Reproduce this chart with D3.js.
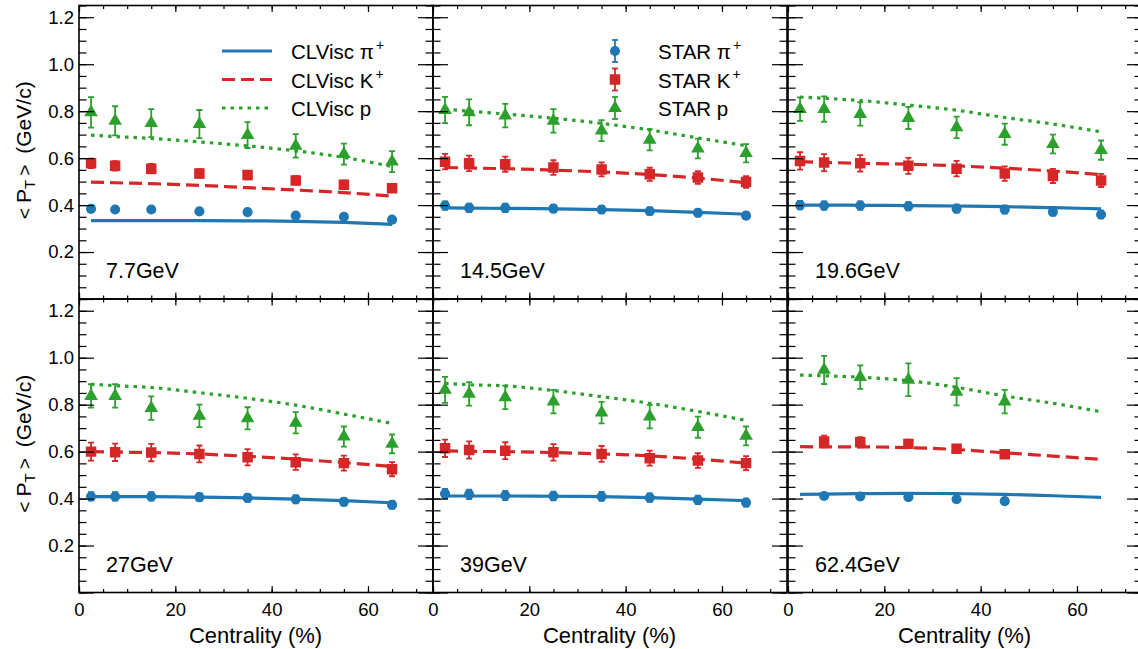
<!DOCTYPE html>
<html><head><meta charset="utf-8">
<script src="https://cdn.jsdelivr.net/npm/d3@7"></script>
<style>
body{margin:0;background:#fff}
svg{display:block}
text{font-family:"Liberation Sans",Arial,Helvetica,sans-serif;fill:#000}
</style>
</head><body>
<svg id="c" width="1138" height="649"></svg>
<script>
// ---------------- data ----------------
const centrality = [2.5, 7.5, 15, 25, 35, 45, 55, 65];
const energyLabels = ["7.7GeV", "14.5GeV", "19.6GeV", "27GeV", "39GeV", "62.4GeV"];
const xTickLabels = [0, 20, 40, 60];
const yTickLabels = [0.2, 0.4, 0.6, 0.8, 1.0, 1.2];

// CLVisc model curves (one row per energy, values at the centrality points)
const clviscPi = [
  [0.334, 0.334, 0.334, 0.334, 0.333, 0.331, 0.326, 0.318],
  [0.388, 0.387, 0.386, 0.384, 0.381, 0.376, 0.369, 0.361],
  [0.400, 0.400, 0.399, 0.398, 0.396, 0.393, 0.389, 0.384],
  [0.408, 0.408, 0.408, 0.406, 0.403, 0.398, 0.391, 0.382],
  [0.411, 0.411, 0.411, 0.410, 0.408, 0.404, 0.398, 0.391],
  [0.418, 0.419, 0.421, 0.422, 0.421, 0.418, 0.412, 0.405]
];
const clviscK = [
  [0.498, 0.495, 0.491, 0.484, 0.474, 0.464, 0.453, 0.438],
  [0.560, 0.558, 0.555, 0.549, 0.541, 0.530, 0.515, 0.495],
  [0.585, 0.582, 0.578, 0.574, 0.567, 0.557, 0.545, 0.530],
  [0.600, 0.598, 0.596, 0.590, 0.580, 0.568, 0.553, 0.537],
  [0.603, 0.601, 0.600, 0.596, 0.590, 0.582, 0.568, 0.551],
  [0.621, 0.620, 0.620, 0.617, 0.609, 0.595, 0.581, 0.567]
];
const clviscP = [
  [0.698, 0.692, 0.684, 0.669, 0.652, 0.631, 0.603, 0.564],
  [0.809, 0.800, 0.788, 0.770, 0.748, 0.720, 0.686, 0.653],
  [0.860, 0.855, 0.845, 0.826, 0.804, 0.773, 0.745, 0.712],
  [0.887, 0.881, 0.873, 0.851, 0.827, 0.798, 0.760, 0.720],
  [0.891, 0.885, 0.880, 0.860, 0.834, 0.806, 0.771, 0.733],
  [0.926, 0.923, 0.917, 0.902, 0.874, 0.837, 0.806, 0.770]
];

// STAR data (null = no measurement)
const starPi = [
  [0.384, 0.381, 0.381, 0.373, 0.370, 0.355, 0.350, 0.338],
  [0.398, 0.388, 0.388, 0.385, 0.381, 0.374, 0.367, 0.355],
  [0.400, 0.398, 0.398, 0.395, 0.385, 0.381, 0.371, 0.360],
  [0.409, 0.409, 0.409, 0.406, 0.403, 0.397, 0.386, 0.373],
  [0.421, 0.418, 0.413, 0.411, 0.409, 0.404, 0.394, 0.383],
  [null, 0.411, 0.409, 0.406, 0.397, 0.389, null, null]
];
const starPiErr = [
  [0.008, 0.008, 0.008, 0.008, 0.008, 0.008, 0.008, 0.008],
  [0.018, 0.018, 0.018, 0.016, 0.016, 0.016, 0.015, 0.015],
  [0.018, 0.018, 0.018, 0.017, 0.017, 0.017, 0.016, 0.016],
  [0.018, 0.018, 0.018, 0.017, 0.017, 0.017, 0.016, 0.016],
  [0.020, 0.020, 0.020, 0.019, 0.019, 0.018, 0.018, 0.017],
  [null, 0.008, 0.008, 0.008, 0.008, 0.008, null, null]
];
const starK = [
  [0.578, 0.567, 0.555, 0.535, 0.528, 0.505, 0.487, 0.472],
  [0.585, 0.578, 0.574, 0.560, 0.552, 0.531, 0.517, 0.498],
  [0.588, 0.581, 0.578, 0.567, 0.555, 0.534, 0.524, 0.505],
  [0.600, 0.597, 0.596, 0.590, 0.576, 0.555, 0.551, 0.525],
  [0.614, 0.607, 0.604, 0.597, 0.590, 0.572, 0.562, 0.551],
  [null, 0.643, 0.640, 0.633, 0.612, 0.589, null, null]
];
const starKErr = [
  [0.020, 0.020, 0.020, 0.018, 0.018, 0.018, 0.017, 0.017],
  [0.033, 0.033, 0.032, 0.031, 0.030, 0.028, 0.027, 0.025],
  [0.037, 0.036, 0.035, 0.034, 0.033, 0.031, 0.030, 0.028],
  [0.038, 0.037, 0.037, 0.036, 0.035, 0.033, 0.032, 0.030],
  [0.037, 0.037, 0.036, 0.035, 0.034, 0.032, 0.031, 0.030],
  [null, 0.025, 0.022, 0.018, 0.015, 0.015, null, null]
];
const starP = [
  [0.795, 0.759, 0.749, 0.745, 0.698, 0.652, 0.617, 0.585],
  [0.805, 0.795, 0.781, 0.759, 0.717, 0.678, 0.641, 0.621],
  [0.809, 0.809, 0.788, 0.771, 0.731, 0.702, 0.660, 0.634],
  [0.837, 0.837, 0.785, 0.752, 0.742, 0.723, 0.664, 0.633],
  [0.863, 0.846, 0.831, 0.813, 0.766, 0.749, 0.704, 0.667],
  [null, 0.948, 0.917, 0.906, 0.855, 0.813, null, null]
];
const starPErr = [
  [0.065, 0.062, 0.060, 0.060, 0.055, 0.050, 0.045, 0.045],
  [0.056, 0.055, 0.050, 0.050, 0.045, 0.045, 0.042, 0.039],
  [0.050, 0.054, 0.050, 0.047, 0.046, 0.045, 0.040, 0.041],
  [0.050, 0.050, 0.050, 0.048, 0.047, 0.045, 0.043, 0.040],
  [0.055, 0.050, 0.050, 0.050, 0.046, 0.050, 0.045, 0.040],
  [null, 0.060, 0.050, 0.070, 0.058, 0.050, null, null]
];

const modelLegend = ["CLVisc π", "CLVisc K", "CLVisc p"];
const dataLegend = ["STAR π", "STAR K", "STAR p"];
const legendSup = ["+", "+", ""];

// ---------------- layout / style ----------------
const colors = ["#1f77b4", "#d62728", "#2ca02c"];
const dashes = [null, "13,6", "3.5,5"];
const colLeft = [79, 433, 788];
const panelW = 354;
const rowTop = [5.5, 299];
const panelH = 293.5;
const font = "'Liberation Sans',Arial,Helvetica,sans-serif";

const svg = d3.select("#c");
const species = [
  {model: clviscPi, data: starPi, err: starPiErr, sym: d3.symbolCircle, size: 80},
  {model: clviscK, data: starK, err: starKErr, sym: d3.symbolSquare, size: 110},
  {model: clviscP, data: starP, err: starPErr, sym: d3.symbolTriangle, size: 80}
];

energyLabels.forEach((lab, i) => {
  const row = Math.floor(i / 3), col = i % 3;
  const x0 = colLeft[col], y0 = rowTop[row];
  const x = d3.scaleLinear().domain([0, 73.5]).range([x0, x0 + panelW]);
  const y = d3.scaleLinear().domain([0, 1.25]).range([y0 + panelH, y0]);
  const g = svg.append("g");

  // clip
  const cid = "clip" + i;
  g.append("clipPath").attr("id", cid).append("rect")
    .attr("x", x0).attr("y", y0).attr("width", panelW).attr("height", panelH);
  const plot = g.append("g").attr("clip-path", `url(#${cid})`);

  // model curves
  species.forEach((s, k) => {
    const pts = centrality.map((c, j) => [c, s.model[i][j]]);
    plot.append("path")
      .attr("d", d3.line().x(d => x(d[0])).y(d => y(d[1])).curve(d3.curveMonotoneX)(pts))
      .attr("fill", "none").attr("stroke", colors[k])
      .attr("stroke-width", 3.2)
      .attr("stroke-dasharray", dashes[k]);
  });
  // data points
  species.forEach((s, k) => {
    const pts = centrality.map((c, j) => ({c, v: s.data[i][j], e: s.err[i][j]})).filter(d => d.v != null);
    const eg = plot.append("g").attr("stroke", colors[k]).attr("stroke-width", 1.8);
    pts.forEach(d => {
      const xx = x(d.c), ya = y(d.v - d.e), yb = y(d.v + d.e);
      eg.append("line").attr("x1", xx).attr("x2", xx).attr("y1", ya).attr("y2", yb);
      eg.append("line").attr("x1", xx - 3).attr("x2", xx + 3).attr("y1", ya).attr("y2", ya);
      eg.append("line").attr("x1", xx - 3).attr("x2", xx + 3).attr("y1", yb).attr("y2", yb);
    });
    plot.append("g").selectAll("path").data(pts).join("path")
      .attr("transform", d => `translate(${x(d.c)},${y(d.v)})`)
      .attr("d", d3.symbol().type(s.sym).size(s.size))
      .attr("fill", colors[k]);
  });

  // axes ticks (inward on all four sides)
  const minorX = d3.range(0, 73.5, 5);
  const majorY = d3.range(0, 1.26, 0.2);
  const minorY = d3.range(0, 1.26, 0.05);
  const styleAxis = sel => {
    sel.select(".domain").remove();
    sel.selectAll("line").attr("stroke", "#000").attr("stroke-width", 1.2);
    sel.selectAll("text").attr("font-family", font).attr("fill", "#000");
  };
  g.append("g").attr("transform", `translate(0,${y0 + panelH})`)
    .call(d3.axisBottom(x).tickValues(minorX).tickSize(-3.5).tickFormat("")).call(styleAxis);
  g.append("g").attr("transform", `translate(0,${y0 + panelH})`)
    .call(d3.axisBottom(x).tickValues(xTickLabels).tickSize(-6.5).tickPadding(row === 1 ? 10 : 0)
      .tickFormat(row === 1 ? d3.format("d") : ""))
    .call(styleAxis)
    .call(a => a.selectAll("text").attr("font-size", 18.5).attr("dy", "0.71em"));
  g.append("g").attr("transform", `translate(0,${y0})`)
    .call(d3.axisTop(x).tickValues(minorX).tickSize(-3.5).tickFormat("")).call(styleAxis);
  g.append("g").attr("transform", `translate(0,${y0})`)
    .call(d3.axisTop(x).tickValues(xTickLabels).tickSize(-6.5).tickFormat("")).call(styleAxis);
  g.append("g").attr("transform", `translate(${x0},0)`)
    .call(d3.axisLeft(y).tickValues(minorY).tickSize(-7.5).tickFormat("")).call(styleAxis);
  g.append("g").attr("transform", `translate(${x0},0)`)
    .call(d3.axisLeft(y).tickValues(majorY).tickSize(-15).tickFormat("")).call(styleAxis);
  g.append("g").attr("transform", `translate(${x0 + panelW},0)`)
    .call(d3.axisRight(y).tickValues(minorY).tickSize(-7.5).tickFormat("")).call(styleAxis);
  g.append("g").attr("transform", `translate(${x0 + panelW},0)`)
    .call(d3.axisRight(y).tickValues(majorY).tickSize(-15).tickFormat("")).call(styleAxis);
  if (col === 0) {
    g.append("g").attr("transform", `translate(${x0},0)`)
      .call(d3.axisLeft(y).tickValues(yTickLabels).tickSize(0).tickPadding(5).tickFormat(d3.format(".1f")))
      .call(styleAxis)
      .call(a => a.selectAll("text").attr("font-size", 18.5));
  }

  // frame
  g.append("rect").attr("x", x0).attr("y", y0).attr("width", panelW).attr("height", panelH)
    .attr("fill", "none").attr("stroke", "#000").attr("stroke-width", 1.6);

  // energy label
  g.append("text").attr("x", x0 + 27).attr("y", y0 + panelH - 21)
    .attr("font-size", 21.5).text(lab);

  // x title
  if (row === 1) {
    g.append("text").attr("x", x0 + 176.5).attr("y", 643).attr("text-anchor", "middle")
      .attr("font-size", 22).text("Centrality (%)");
  }
  // y title
  if (col === 0) {
    const t = g.append("text").attr("text-anchor", "middle").attr("font-size", 21)
      .attr("transform", `translate(31,${y0 + panelH / 2 - 2}) rotate(-90)`);
    t.append("tspan").attr("font-size", 19).text("<");
    t.append("tspan").attr("dx", 5).text("P");
    t.append("tspan").attr("font-size", 15).attr("dy", 4).text("T");
    t.append("tspan").attr("dy", -4).attr("dx", 4).attr("font-size", 19).text(">");
    t.append("tspan").attr("dx", 11).text("(GeV/c)");
  }
});

// ---------------- legends ----------------
const legRowY = [59, 87.5, 116];
const lg = svg.append("g");
modelLegend.forEach((name, k) => {
  const yy = legRowY[k] - 8;
  lg.append("line").attr("x1", 222).attr("x2", 272).attr("y1", yy).attr("y2", yy)
    .attr("stroke", colors[k]).attr("stroke-width", 3.2).attr("stroke-dasharray", dashes[k]);
  const t = lg.append("text").attr("x", 291).attr("y", legRowY[k]).attr("font-size", 20.5).text(name);
  if (legendSup[k]) t.append("tspan").attr("font-size", 14).attr("dx", 2).attr("dy", -9).text(legendSup[k]);
});
dataLegend.forEach((name, k) => {
  const s = species[k];
  const yy = legRowY[k] - 8, xx = 615;
  const eg = lg.append("g").attr("stroke", colors[k]).attr("stroke-width", 1.8);
  eg.append("line").attr("x1", xx).attr("x2", xx).attr("y1", yy - 11).attr("y2", yy + 11);
  eg.append("line").attr("x1", xx - 3).attr("x2", xx + 3).attr("y1", yy - 11).attr("y2", yy - 11);
  eg.append("line").attr("x1", xx - 3).attr("x2", xx + 3).attr("y1", yy + 11).attr("y2", yy + 11);
  lg.append("path").attr("transform", `translate(${xx},${yy})`)
    .attr("d", d3.symbol().type(s.sym).size(s.size)()).attr("fill", colors[k]);
  const t = lg.append("text").attr("x", 658).attr("y", legRowY[k]).attr("font-size", 20.5).text(name);
  if (legendSup[k]) t.append("tspan").attr("font-size", 14).attr("dx", 2).attr("dy", -9).text(legendSup[k]);
});
</script>
</body></html>
